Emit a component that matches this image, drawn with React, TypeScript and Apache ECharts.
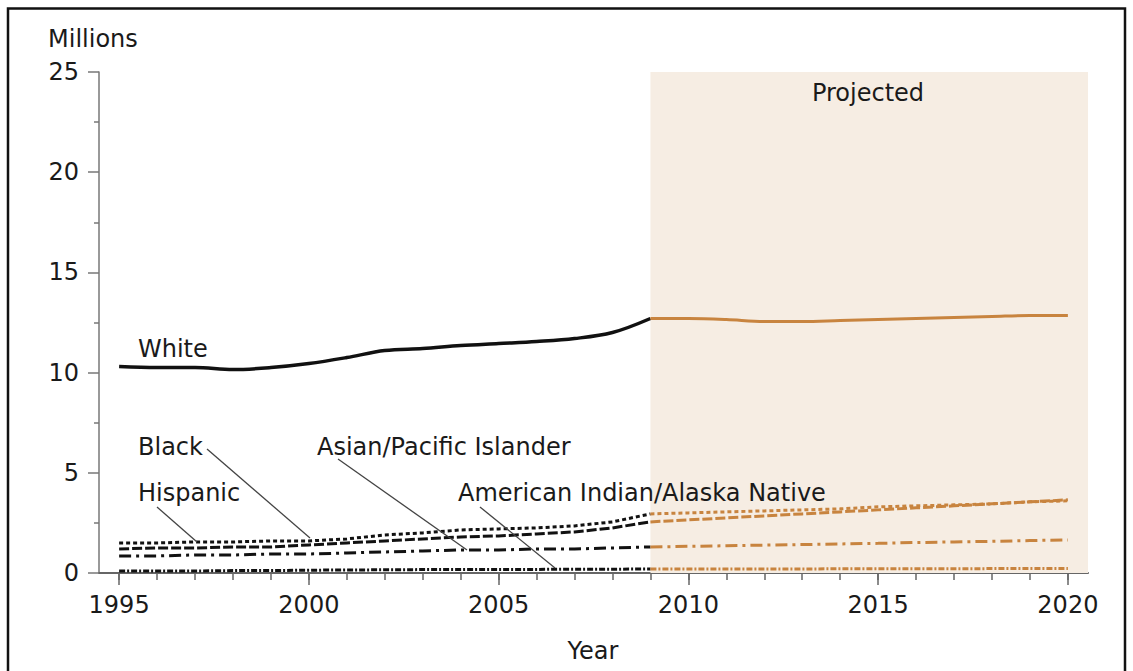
import React, { useEffect, useRef } from "react";
import * as echarts from "echarts";

// ---- Data ----
const histYears = [1995, 1996, 1997, 1998, 1999, 2000, 2001, 2002, 2003, 2004, 2005, 2006, 2007, 2008, 2009];
const projYears = [2009, 2010, 2011, 2012, 2013, 2014, 2015, 2016, 2017, 2018, 2019, 2020];

const whiteHist = [10.3, 10.25, 10.25, 10.15, 10.25, 10.45, 10.75, 11.1, 11.2, 11.35, 11.45, 11.55, 11.7, 12.0, 12.7];
const blackHist = [1.5, 1.5, 1.55, 1.55, 1.6, 1.6, 1.7, 1.9, 2.0, 2.15, 2.2, 2.25, 2.35, 2.55, 2.95];
const hispanicHist = [1.2, 1.25, 1.25, 1.3, 1.3, 1.4, 1.5, 1.6, 1.7, 1.8, 1.85, 1.95, 2.05, 2.25, 2.55];
const asianHist = [0.85, 0.85, 0.9, 0.9, 0.95, 0.95, 1.0, 1.05, 1.1, 1.15, 1.15, 1.2, 1.2, 1.25, 1.3];
const aianHist = [0.1, 0.1, 0.1, 0.12, 0.12, 0.14, 0.15, 0.16, 0.17, 0.17, 0.18, 0.18, 0.19, 0.19, 0.2];

const whiteProj = [12.7, 12.7, 12.65, 12.55, 12.55, 12.6, 12.65, 12.7, 12.75, 12.8, 12.85, 12.85];
const blackProj = [2.95, 3.0, 3.05, 3.1, 3.15, 3.2, 3.3, 3.35, 3.4, 3.45, 3.55, 3.6];
const hispanicProj = [2.55, 2.65, 2.75, 2.85, 2.95, 3.05, 3.15, 3.25, 3.35, 3.45, 3.55, 3.65];
const asianProj = [1.3, 1.33, 1.36, 1.39, 1.42, 1.45, 1.48, 1.52, 1.55, 1.58, 1.62, 1.65];
const aianProj = [0.2, 0.2, 0.2, 0.2, 0.2, 0.21, 0.21, 0.21, 0.21, 0.22, 0.22, 0.22];

const majorYears = [1995, 2000, 2005, 2010, 2015, 2020];
const allYears = [1995, 1996, 1997, 1998, 1999, 2000, 2001, 2002, 2003, 2004, 2005, 2006, 2007, 2008, 2009, 2010, 2011, 2012, 2013, 2014, 2015, 2016, 2017, 2018, 2019, 2020];
const projStart = 2009;

const FONT = "DejaVu Sans";
const BLACK = "#111111";
const ORANGE = "#C8843F";
const TEXT = "#1a1a1a";

function pairs(xs: number[], ys: number[]) {
  return xs.map((x, i) => [x, ys[i]]);
}

function mk(name: string, xs: number[], ys: number[], color: string, type: any, width: number, smooth: any) {
  return {
    name,
    type: "line",
    data: pairs(xs, ys),
    showSymbol: false,
    symbol: "none",
    smooth,
    z: 3,
    lineStyle: { color, width, type, cap: "butt" },
  };
}

const DASH_BLACK = [4, 3];
const DASH_HISP = [10, 3];
const DASH_ASIAN = [12, 5, 3, 5];
const DASH_AIAN = [6, 2, 2, 2];

export default function App() {
  const ref = useRef<HTMLDivElement>(null);
  useEffect(() => {
    if (!ref.current) return;
    const chart = echarts.init(ref.current, undefined, { renderer: "svg" });
    const textEl = (text: string, x: number, y: number, align = "left") => ({
      type: "text",
      x,
      y,
      z: 100,
      zlevel: 0,
      style: {
        text,
        font: `24px "${FONT}"`,
        fill: TEXT,
        align,
        verticalAlign: "middle",
      },
      silent: true,
    });
    const leader = (x1: number, y1: number, x2: number, y2: number) => ({
      type: "line",
      shape: { x1, y1, x2, y2 },
      style: { stroke: "#444", lineWidth: 1.3 },
      silent: true,
      z: 100,
    });
    const option: any = {
      animation: false,
      backgroundColor: "#ffffff",
      grid: { left: 99, right: 45, top: 72, bottom: 98, containLabel: false },
      xAxis: [
        {
          type: "value",
          min: 1994.47,
          max: 2020.53,
          axisLine: { show: true, lineStyle: { color: "#666", width: 2 } },
          axisTick: { show: true, length: 12, customValues: majorYears, lineStyle: { color: "#666", width: 1.5 } },
          axisLabel: {
            show: true,
            customValues: majorYears,
            fontSize: 24,
            fontFamily: FONT,
            color: TEXT,
            margin: 20,
            formatter: (v: number) => String(Math.round(v)),
          },
          splitLine: { show: false },
        },
        {
          type: "value",
          min: 1994.47,
          max: 2020.53,
          position: "bottom",
          offset: 0,
          axisLine: { show: false },
          axisTick: { show: true, length: 7, customValues: allYears, lineStyle: { color: "#666", width: 1.5 } },
          axisLabel: { show: false },
          splitLine: { show: false },
        },
      ],
      yAxis: {
        type: "value",
        min: 0,
        max: 25,
        interval: 5,
        axisLine: { show: true, lineStyle: { color: "#777", width: 1.5 } },
        axisTick: { show: true, length: 11, lineStyle: { color: "#777", width: 1.5 } },
        minorTick: { show: true, splitNumber: 2, length: 5, lineStyle: { color: "#777", width: 1.5 } },
        axisLabel: { fontSize: 24, fontFamily: FONT, color: TEXT, margin: 20 },
        splitLine: { show: false },
        minorSplitLine: { show: false },
      },
      series: [
        {
          ...mk("White", histYears, whiteHist, BLACK, "solid", 3.5, 0.35),
          z: 2,
          markArea: {
            silent: true,
            itemStyle: { color: "#F6EDE3" },
            data: [[{ xAxis: projStart }, { xAxis: 2020.53 }]],
          },
        },
        mk("Black", histYears, blackHist, BLACK, DASH_BLACK, 3, false),
        mk("Hispanic", histYears, hispanicHist, BLACK, DASH_HISP, 3, false),
        mk("Asian/Pacific Islander", histYears, asianHist, BLACK, DASH_ASIAN, 3, false),
        mk("American Indian/Alaska Native", histYears, aianHist, BLACK, DASH_AIAN, 3, false),
        mk("White (projected)", projYears, whiteProj, ORANGE, "solid", 3, 0.35),
        mk("Black (projected)", projYears, blackProj, ORANGE, DASH_BLACK, 3, false),
        mk("Hispanic (projected)", projYears, hispanicProj, ORANGE, DASH_HISP, 3, false),
        mk("Asian/Pacific Islander (projected)", projYears, asianProj, ORANGE, DASH_ASIAN, 3, false),
        mk("American Indian/Alaska Native (projected)", projYears, aianProj, ORANGE, DASH_AIAN, 3, false),
      ],
      graphic: {
        elements: [
          {
            type: "rect",
            shape: { x: 8, y: 8.5, width: 1117, height: 720 },
            style: { fill: "none", stroke: "#111", lineWidth: 2.5 },
            silent: true,
            z: 100,
          },
          textEl("Millions", 48, 39),
          textEl("Year", 593, 651, "center"),
          textEl("Projected", 868, 93, "center"),
          textEl("White", 138, 349),
          textEl("Black", 138, 447),
          textEl("Hispanic", 138, 493),
          textEl("Asian/Pacific Islander", 317, 447),
          textEl("American Indian/Alaska Native", 458, 493),
          leader(157, 507, 197, 542),
          leader(207, 449, 310, 538),
          leader(338, 459, 467, 550),
          leader(480, 507, 555, 568),
        ],
      },
    };
    chart.setOption(option);
    return () => chart.dispose();
  }, []);
  return (
    <div style={{ position: "fixed", left: 0, top: 0, width: 1133, height: 671, background: "#fff" }}>
      <div ref={ref} style={{ width: 1133, height: 671 }} />
    </div>
  );
}
